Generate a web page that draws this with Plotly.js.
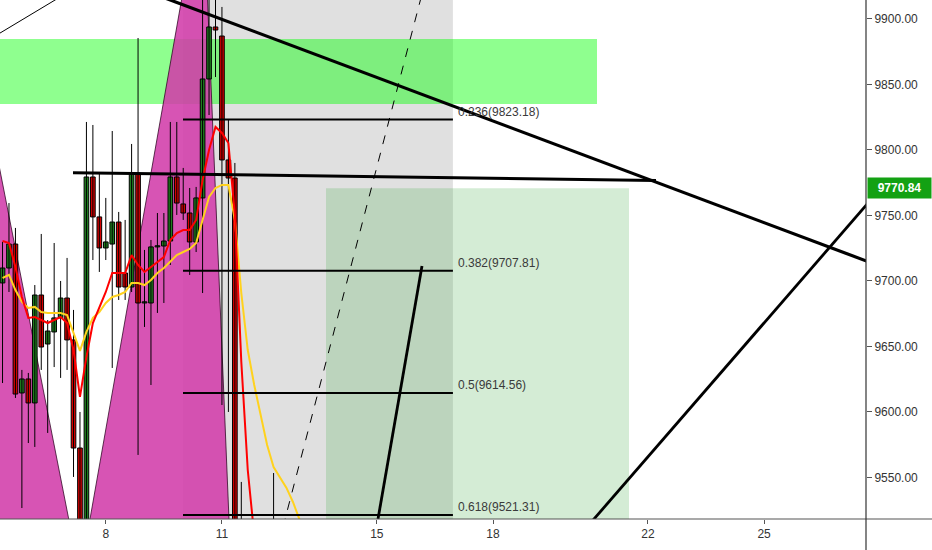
<!DOCTYPE html>
<html><head><meta charset="utf-8">
<script src="https://cdn.plot.ly/plotly-3.0.1.min.js"></script>
<style>html,body{margin:0;padding:0;background:#fff;}#chart{width:932px;height:550px;}</style>
</head><body><div id="chart"></div>
<script>
// ---- data (BTC 4h candles, June) ----
const startDay = 5 + 8/24;      // first candle: day 5, 08:00
const stepDays = 4/24;          // 4h candles
const open  = [9698.5,9709.9,9728.2,9614.5,9625.2,9606.9,9689.3,9651.9,9661.1,9671.8,9687.0,9655.0,9572.5,9498.5,9779.4,9748.9,9725.2,9728.2,9745.0,9706.1,9695.4,9782.4,9683.2,9683.2,9726.0,9726.7,9730.5,9779.4,9758.8,9751.9,9729.8,9763.4,9854.2,9893.9,9887.0,9792.4,9778.6,9456.5,9425,9410,9440,9420,9465,9480,9450,9470,9455,9475];
const high  = [9729.8,9759.5,9740.5,9632.1,9629.8,9696.9,9735.9,9670.2,9729.0,9700.0,9717.6,9677.9,9600.0,9821.4,9819.1,9782.4,9763.4,9814.5,9752.7,9746.6,9804.6,9885.5,9723.7,9731.3,9751.9,9751.9,9821.4,9821.4,9786.3,9771.0,9771.8,10005.8,9918.3,9916.8,9909.2,9822.9,9790.1,9546.6,9490,9455,9480,9480,9553.4,9505,9495,9500,9490,9500];
const low   = [9622.1,9691.6,9610.7,9526.7,9576.3,9573.3,9632.1,9584.0,9634.3,9626.0,9632.1,9550.4,9474.8,9487.0,9716.0,9706.9,9716.0,9633.6,9685.5,9685.5,9691.6,9567.2,9664.9,9620.6,9675.6,9683.2,9712.2,9750.4,9746.6,9704.6,9722.1,9690.8,9826.7,9855.7,9605.3,9600.0,9362.0,9380,9370,9360,9395,9385,9440,9430,9420,9440,9420,9440];
const close = [9709.9,9728.2,9613.7,9625.2,9606.9,9689.3,9649.6,9661.8,9671.8,9687.0,9655.0,9572.5,9498.5,9779.4,9748.9,9725.2,9729.8,9745.0,9695.4,9695.4,9782.4,9683.2,9684.0,9726.0,9726.7,9730.5,9779.4,9759.5,9751.9,9729.8,9763.4,9854.2,9893.9,9891.6,9792.4,9778.6,9456.5,9425,9410,9440,9420,9465,9480,9450,9470,9455,9475,9460];
const maFast = [9730.5,9729.0,9710.7,9687.8,9671.8,9672.5,9670.2,9667.9,9670.2,9672.5,9667.9,9647.3,9611.5,9642.0,9667.9,9680.2,9691.6,9706.1,9706.1,9706.1,9719.8,9712.2,9706.9,9710.7,9714.5,9718.3,9731.3,9736.6,9738.9,9738.9,9746.6,9777.1,9800.0,9817.6,9813.0,9805.3,9750.4,9638.2,9555.7,9498.5,9456.5,9448.9,9456.5,9448.9,9445.0,9441.2,9445.0,9450.0];
const maSlow = [9702.3,9704.6,9693.1,9684.0,9679.4,9680.2,9676.3,9675.6,9675.6,9675.6,9674.0,9660.3,9646.6,9661.1,9671.8,9676.3,9683.2,9687.8,9689.3,9691.6,9698.5,9698.5,9696.9,9700.8,9706.1,9709.9,9714.5,9719.8,9722.1,9724.4,9729.0,9746.6,9764.1,9771.0,9773.3,9773.3,9746.6,9690.8,9647.3,9620.6,9597.7,9574.8,9558.0,9549.6,9542.0,9531.3,9517.6,9505.0];

const xTickVals = [8, 11, 15, 18, 22, 25];
const xTickText = ['8', '11', '15', '18', '22', '25'];

// fibonacci retracement
const fibStart = [9.994, 9219.46];
const fibEnd   = [16.965, 10009.67];
const fibLevels = ['0.236', '0.382', '0.5', '0.618'];
const fibPrices = [9823.18, 9707.81, 9614.56, 9521.31];

// drawings: [day0, price0, day1, price1]
const trendDesc  = [9.53, 9916.0, 28.0, 9711.3];
const trendFlat  = [7.153, 9782.7, 22.21, 9776.7];
const trendRise  = [20.409, 9511.5, 28.0, 9770.2];
const trendSteep = [15.03, 9518.3, 16.166, 9711.5];
const trendThin  = [5.0, 9884.5, 7.0, 9920.0];

const greenZone  = [4.5, 9884.7, 20.686, 9835.1];
const profitZone = [13.687, 9770.84, 21.512, 9400];
const grayZone   = [9.994, 16.965];

// XABCD pattern points
const patX = [3.5, 4.5, 7.333, 10.5, 11.4];
const patP = [9480, 9899.5, 9474.8, 10005.8, 9362];

const lastPrice = 9770.84;

// ---- build ----
const xs = open.map((_, i) => startDay + i * stepDays);
const up = close.map((c, i) => c >= open[i]);

const wx = [], wy = [];
xs.forEach((x, i) => { wx.push(x, x, null); wy.push(low[i], high[i], null); });
const wicks = {type: 'scatter', mode: 'lines', x: wx, y: wy, connectgaps: false,
  line: {color: '#000', width: 1}, hoverinfo: 'skip', showlegend: false};

const bodies = {
  type: 'bar', x: xs,
  base: open.map((o, i) => Math.min(o, close[i])),
  y: open.map((o, i) => Math.max(Math.abs(close[i] - o), 0.9)),
  width: stepDays * 0.72,
  marker: {color: up.map(u => u ? '#1e7d1e' : '#d40000'), line: {color: '#000', width: 1}},
  hoverinfo: 'skip', showlegend: false
};
const slow = {type: 'scatter', mode: 'lines', x: xs, y: maSlow,
  line: {color: '#ffd21e', width: 2}, hoverinfo: 'skip', showlegend: false};
const fast = {type: 'scatter', mode: 'lines', x: xs, y: maFast,
  line: {color: '#ff0000', width: 2}, hoverinfo: 'skip', showlegend: false};

function seg(a, w, dash) {
  return {type: 'line', xref: 'x', yref: 'y', x0: a[0], y0: a[1], x1: a[2], y1: a[3],
    line: {color: '#000', width: w, dash: dash || 'solid'}, layer: 'above'};
}
function tri(i, j, k) {
  return {type: 'path', xref: 'x', yref: 'y', layer: 'below',
    path: `M ${patX[i]},${patP[i]} L ${patX[j]},${patP[j]} L ${patX[k]},${patP[k]} Z`,
    fillcolor: 'rgba(210,60,170,0.88)', line: {color: 'rgba(40,0,30,0.75)', width: 1}};
}

const shapes = [
  {type: 'rect', xref: 'x', yref: 'y', layer: 'below', x0: greenZone[0], y0: greenZone[1], x1: greenZone[2], y1: greenZone[3],
   fillcolor: 'rgba(0,255,0,0.44)', line: {width: 0}},
  {type: 'rect', xref: 'x', yref: 'y', layer: 'below', x0: profitZone[0], y0: profitZone[1], x1: profitZone[2], y1: profitZone[3],
   fillcolor: 'rgba(76,175,80,0.24)', line: {width: 0}},
  tri(0, 1, 2),
  tri(2, 3, 4),
  {type: 'rect', xref: 'x', yref: 'paper', layer: 'below', x0: grayZone[0], x1: grayZone[1], y0: 0, y1: 1,
   fillcolor: 'rgba(0,0,0,0.12)', line: {width: 0}},
  seg(trendDesc, 3.2), seg(trendFlat, 3), seg(trendRise, 2.8), seg(trendSteep, 2.8), seg(trendThin, 1),
  seg([fibStart[0], fibStart[1], fibEnd[0], fibEnd[1]], 1, 'dash'),
  // axis lines
  {type: 'line', xref: 'paper', yref: 'paper', x0: 0, x1: 932/866, y0: 0, y1: 0, line: {color: '#555', width: 1.2}, layer: 'above'},
  {type: 'line', xref: 'paper', yref: 'paper', x0: 1, x1: 1, y0: -31/519, y1: 1, line: {color: '#333', width: 1.2}, layer: 'above'}
];
fibPrices.forEach(p => shapes.push({type: 'line', xref: 'x', yref: 'y', x0: fibStart[0], x1: fibEnd[0], y0: p, y1: p,
  line: {color: '#000', width: 2}, layer: 'above'}));

const annotations = fibPrices.map((p, k) => ({
  x: fibEnd[0], y: p, xref: 'x', yref: 'y', xanchor: 'left', yanchor: 'bottom', xshift: 3, yshift: -1,
  text: `${fibLevels[k]}(${p.toFixed(2)})`, showarrow: false,
  font: {family: 'Liberation Sans, Arial, sans-serif', size: 12, color: '#3a3a3a'}
}));
annotations.push({
  x: 1, xref: 'paper', y: lastPrice, yref: 'y', xanchor: 'left', yanchor: 'middle', xshift: 1,
  text: '<b>' + lastPrice.toFixed(2) + '</b>', showarrow: false, bgcolor: '#13a113',
  width: 59, height: 16, borderpad: 2,
  font: {family: 'Liberation Sans, Arial, sans-serif', size: 12, color: '#fff'}
});

const tickFont = {family: 'Liberation Sans, Arial, sans-serif', size: 12, color: '#333'};
const layout = {
  width: 932, height: 550,
  margin: {l: 0, r: 66, t: 0, b: 31, pad: 0},
  paper_bgcolor: '#fff', plot_bgcolor: '#fff',
  showlegend: false, bargap: 0,
  xaxis: {type: 'linear', range: [5.268, 27.633], showgrid: false, zeroline: false, showline: false,
    tickvals: xTickVals, ticktext: xTickText, ticks: 'outside', ticklen: 4, tickcolor: '#555',
    tickfont: tickFont, fixedrange: true},
  yaxis: {side: 'right', range: [9518.3, 9914.5], dtick: 50, tick0: 9500, tickformat: '.2f',
    showgrid: false, zeroline: false, showline: false, ticks: 'outside', ticklen: 5, tickcolor: '#555',
    tickfont: tickFont, fixedrange: true},
  shapes: shapes, annotations: annotations
};

Plotly.newPlot('chart', [wicks, bodies, slow, fast], layout, {displayModeBar: false, staticPlot: true});
</script></body></html>
